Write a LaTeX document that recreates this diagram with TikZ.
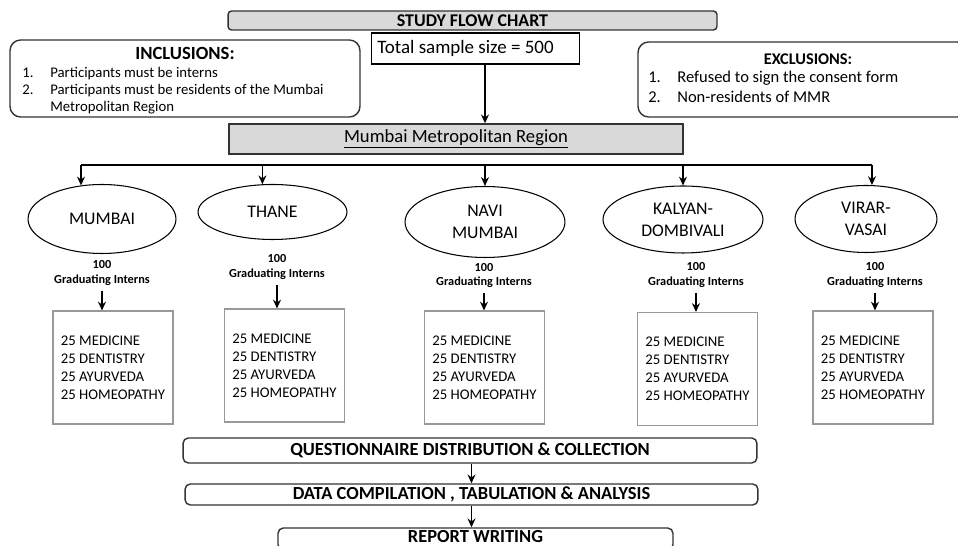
\documentclass[tikz,border=0pt]{standalone}
\usepackage{fontspec}
\setmainfont{Carlito}
\usepackage{tikz}
\usetikzlibrary{arrows.meta,positioning,shapes,calc}

\begin{document}
\begin{tikzpicture}[
    x=0.02cm, y=-0.02cm,
    headbox/.style={rectangle, draw=black!80, line width=0.8pt, fill=gray!30, inner sep=0pt},
    rulebox/.style={rectangle, draw=black!80, line width=0.8pt, rounded corners=6pt, inner sep=0pt},
    city/.style={ellipse, draw, line width=0.6pt, inner sep=0pt, align=center, font=\fontsize{10.1}{12.5}\selectfont},
    intern/.style={align=center, inner sep=0pt, font=\fontsize{7}{8}\selectfont\bfseries},
    split/.style={rectangle, draw=black!40, line width=0.6pt, minimum width=2.4cm, minimum height=2.26cm, inner sep=0pt, align=left, font=\fontsize{8.4}{10.2}\selectfont},
    stage/.style={rectangle, draw=black!80, line width=0.8pt, rounded corners=3pt, inner sep=0pt, font=\fontsize{10.5}{12}\selectfont\bfseries},
    flow/.style={-{Stealth[length=5pt, width=4.5pt]}, line width=1pt}
]
    \useasboundingbox (0,0) rectangle (958,546);

    % Header
    \node[headbox, rounded corners=2pt, minimum width=9.78cm, minimum height=0.38cm, font=\fontsize{10.2}{12}\selectfont\bfseries] (title) at (472.5,20.5) {STUDY FLOW CHART};
    \node[rectangle, draw, line width=0.8pt, minimum width=4.16cm, minimum height=0.62cm, inner sep=0pt] (total) at (475.5,48.5) {};
    \node[anchor=west, inner sep=0pt, font=\fontsize{10.8}{12}\selectfont] (totalT) at (377,48.5) {Total sample size = 500};

    % Inclusions and exclusions
    \node[rulebox, minimum width=7cm, minimum height=1.54cm] (incl) at (185,78.5) {};
    \node[font=\fontsize{10.6}{12}\selectfont\bfseries, inner sep=0pt] (inclT) at (185,53.5) {INCLUSIONS:};
    \node[anchor=base west, inner sep=0pt, font=\fontsize{8.4}{9.6}\selectfont] (inclL) at (22,77.5) {\begin{tabular}[t]{@{}p{0.56cm}@{}l@{}}1.&Participants must be interns\\2.&Participants must be residents of the Mumbai\\&Metropolitan Region\end{tabular}};
    \node[rulebox, minimum width=6.6cm, minimum height=1.5cm] (excl) at (803,79.5) {};
    \node[font=\fontsize{9.3}{11}\selectfont\bfseries, inner sep=0pt] (exclT) at (808,59.5) {EXCLUSIONS:};
    \node[anchor=base west, inner sep=0pt, font=\fontsize{9.4}{11.3}\selectfont] (exclL) at (648,83) {\begin{tabular}[t]{@{}p{0.58cm}@{}l@{}}1.&Refused to sign the consent form\\2.&Non-residents of MMR\end{tabular}};

    % Region
    \node[headbox, minimum width=9.08cm, minimum height=0.6cm, font=\fontsize{10.6}{12}\selectfont] (region) at (456,139) {\underline{Mumbai Metropolitan Region}};

    % Cities
    \node[city, minimum width=2.96cm, minimum height=1.38cm] (mum) at (102,219) {MUMBAI};
    \node[city, minimum width=2.98cm, minimum height=1.1cm] (thn) at (272.5,212) {THANE};
    \node[city, minimum width=3.2cm, minimum height=1.42cm] (nav) at (485,222) {NAVI\\MUMBAI};
    \node[city, minimum width=3.2cm, minimum height=1.34cm] (kal) at (683,219.5) {KALYAN-\\DOMBIVALI};
    \node[city, minimum width=2.84cm, minimum height=1.34cm] (vir) at (866,219) {VIRAR-\\VASAI};
    \coordinate (bus) at (0,165);

    % Interns per city
    \node[intern] (mumN) at (102,273) {100\\Graduating Interns};
    \node[intern] (thnN) at (277,267) {100\\Graduating Interns};
    \node[intern] (navN) at (484,275.5) {100\\Graduating Interns};
    \node[intern] (kalN) at (696,275) {100\\Graduating Interns};
    \node[intern] (virN) at (875,275) {100\\Graduating Interns};

    % Streams
    \node[split] (mumS) at (113,367.5) {25 MEDICINE\\25 DENTISTRY\\25 AYURVEDA\\25 HOMEOPATHY};
    \node[split] (thnS) at (284.5,365.5) {25 MEDICINE\\25 DENTISTRY\\25 AYURVEDA\\25 HOMEOPATHY};
    \node[split] (navS) at (484.5,367.5) {25 MEDICINE\\25 DENTISTRY\\25 AYURVEDA\\25 HOMEOPATHY};
    \node[split] (kalS) at (697.5,369) {25 MEDICINE\\25 DENTISTRY\\25 AYURVEDA\\25 HOMEOPATHY};
    \node[split] (virS) at (873,367.5) {25 MEDICINE\\25 DENTISTRY\\25 AYURVEDA\\25 HOMEOPATHY};

    % Stages
    \node[stage, minimum width=11.48cm, minimum height=0.5cm] (qst) at (470,450.5) {QUESTIONNAIRE DISTRIBUTION \& COLLECTION};
    \node[stage, minimum width=11.46cm, minimum height=0.42cm] (dat) at (471.5,494.5) {DATA COMPILATION , TABULATION \& ANALYSIS};
    \node[stage, minimum width=7.9cm, minimum height=0.44cm] (rep) at (475.5,539) {};
    \node[font=\fontsize{10.5}{12}\selectfont\bfseries, inner sep=0pt] (repT) at (475.5,536.5) {REPORT WRITING};

    % Connectors
    \draw[flow] (nav |- total.south) -- (nav |- region.north);
    \draw[line width=1pt] (mum.122 |- bus) -- (vir.80 |- bus);
    \draw[flow] (mum.122 |- bus) -- (mum.122);
    \draw[flow] (thn.110 |- bus) -- (thn.110);
    \draw[flow] (nav.north |- bus) -- (nav.north);
    \draw[flow] (kal.north |- bus) -- (kal.north);
    \draw[flow] (vir.80 |- bus) -- (vir.80);
    \foreach \c in {mum,thn,nav,kal,vir}
        \draw[flow] ([yshift=-3pt]\c N.south) -- (\c N.south |- \c S.north);
    \draw[flow] (qst.south -| dat) -- (dat.north);
    \draw[flow] (dat.south) -- (dat.south |- rep.north);
\end{tikzpicture}
\end{document}
